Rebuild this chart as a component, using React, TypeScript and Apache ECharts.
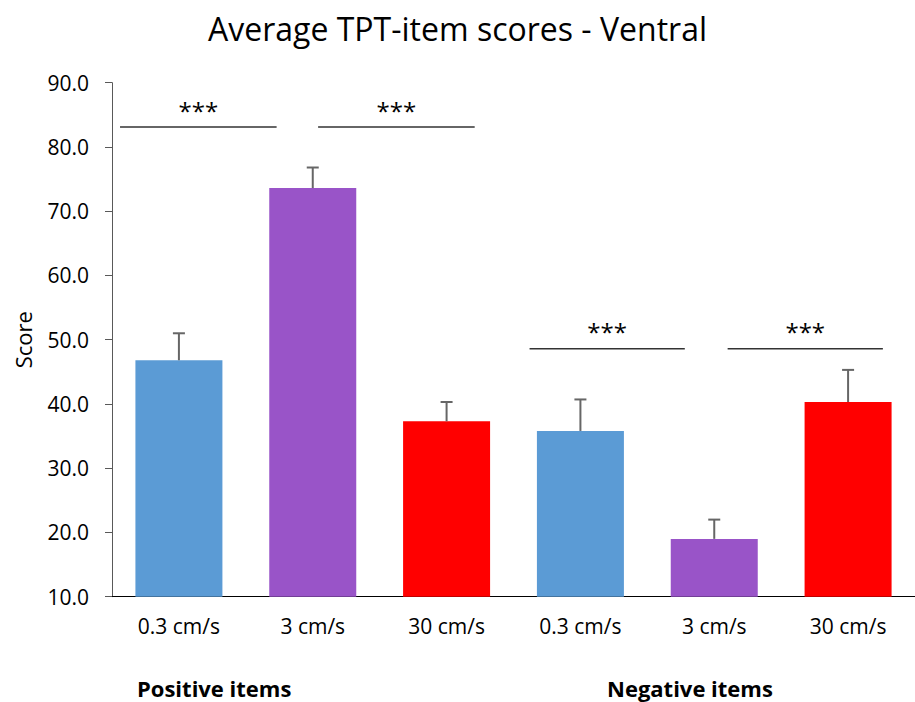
import React, { useEffect, useRef } from "react";
import * as echarts from "echarts";

const titleText = "Average TPT-item scores - Ventral";
const categories = ["0.3 cm/s", "3 cm/s", "30 cm/s", "0.3 cm/s", "3 cm/s", "30 cm/s"];
const means = [46.8, 73.6, 37.3, 35.8, 19.0, 40.3];
const errors = [4.2, 3.2, 3.0, 4.9, 3.0, 5.0];
const barColors = ["#5B9BD5", "#9954C8", "#FF0000", "#5B9BD5", "#9954C8", "#FF0000"];
const yMin = 10;
const yMax = 90;
const yInterval = 10;
// [x start (category units), x end, y value]
const sigLines = [
  [-0.44, 0.73, 83.1],
  [1.04, 2.21, 83.1],
  [2.62, 3.78, 48.6],
  [4.1, 5.26, 48.6],
];
const sigLabel = "***";
const groupLabels = ["Positive items", "Negative items"];

const FONT = "'Open Sans', 'Noto Sans', sans-serif";

export default function App() {
  const ref = useRef<HTMLDivElement>(null);
  useEffect(() => {
    document.body.style.margin = "0";
    if (!ref.current) return;
    const chart = echarts.init(ref.current, null, { renderer: "svg" });
    const option: any = {
      animation: false,
      backgroundColor: "#ffffff",
      textStyle: { fontFamily: FONT },
      title: {
        text: titleText,
        left: "center",
        top: 7,
        textStyle: { fontFamily: FONT, fontSize: 32, fontWeight: "normal", color: "#000" },
      },
      grid: { left: 112, right: 0, top: 82.7, bottom: 105.3, containLabel: false },
      xAxis: [
        {
          type: "category",
          data: categories,
          axisLine: { lineStyle: { color: "#000", width: 1 } },
          axisTick: { show: false },
          axisLabel: { color: "#000", fontSize: 21, margin: 19, fontFamily: FONT },
        },
        {
          type: "value",
          min: -0.5,
          max: 5.5,
          show: false,
        },
      ],
      yAxis: {
        type: "value",
        min: yMin,
        max: yMax,
        interval: yInterval,
        name: "Score",
        nameLocation: "middle",
        nameRotate: 90,
        nameGap: 78,
        nameTextStyle: { color: "#000", fontSize: 22, fontFamily: FONT },
        axisLine: { show: true, onZero: false, lineStyle: { color: "#595959", width: 1 } },
        axisTick: { show: true, length: 7, lineStyle: { color: "#595959" } },
        splitLine: { show: false },
        axisLabel: {
          color: "#000",
          fontSize: 21,
          margin: 23,
          fontFamily: FONT,
          formatter: (v: number) => v.toFixed(1),
        },
      },
      series: [
        {
          type: "bar",
          xAxisIndex: 0,
          barWidth: 87,
          data: means.map((v, i) => ({ value: v, itemStyle: { color: barColors[i] } })),
        },
        {
          type: "custom",
          xAxisIndex: 0,
          z: 5,
          data: means.map((v, i) => [i, v, v + errors[i]]),
          renderItem: (params: any, api: any) => {
            const bottom = api.coord([api.value(0), api.value(1)]);
            const top = api.coord([api.value(0), api.value(2)]);
            const half = 6;
            const style = { stroke: "#666666", lineWidth: 2 };
            return {
              type: "group",
              children: [
                { type: "line", shape: { x1: top[0], y1: bottom[1], x2: top[0], y2: top[1] }, style },
                { type: "line", shape: { x1: top[0] - half, y1: top[1], x2: top[0] + half, y2: top[1] }, style },
              ],
            };
          },
        },
        {
          type: "custom",
          xAxisIndex: 1,
          z: 5,
          data: sigLines,
          renderItem: (params: any, api: any) => {
            const a = api.coord([api.value(0), api.value(2)]);
            const b = api.coord([api.value(1), api.value(2)]);
            return {
              type: "group",
              children: [
                {
                  type: "line",
                  shape: { x1: a[0], y1: a[1], x2: b[0], y2: b[1] },
                  style: { stroke: "#333333", lineWidth: 1.5 },
                },
                {
                  type: "text",
                  x: (a[0] + b[0]) / 2,
                  y: a[1] - 17,
                  style: {
                    text: sigLabel,
                    fill: "#000",
                    fontSize: 24,
                    fontFamily: FONT,
                    align: "center",
                    verticalAlign: "middle",
                  },
                },
              ],
            };
          },
        },
      ],
      graphic: [
        {
          type: "text",
          left: 137,
          top: 677,
          style: { text: groupLabels[0], fontSize: 22, fontWeight: "bold", fill: "#000", fontFamily: FONT },
        },
        {
          type: "text",
          left: 607,
          top: 677,
          style: { text: groupLabels[1], fontSize: 22, fontWeight: "bold", fill: "#000", fontFamily: FONT },
        },
      ],
    };
    chart.setOption(option);
    return () => chart.dispose();
  }, []);
  return <div ref={ref} style={{ width: 915, height: 702 }} />;
}
